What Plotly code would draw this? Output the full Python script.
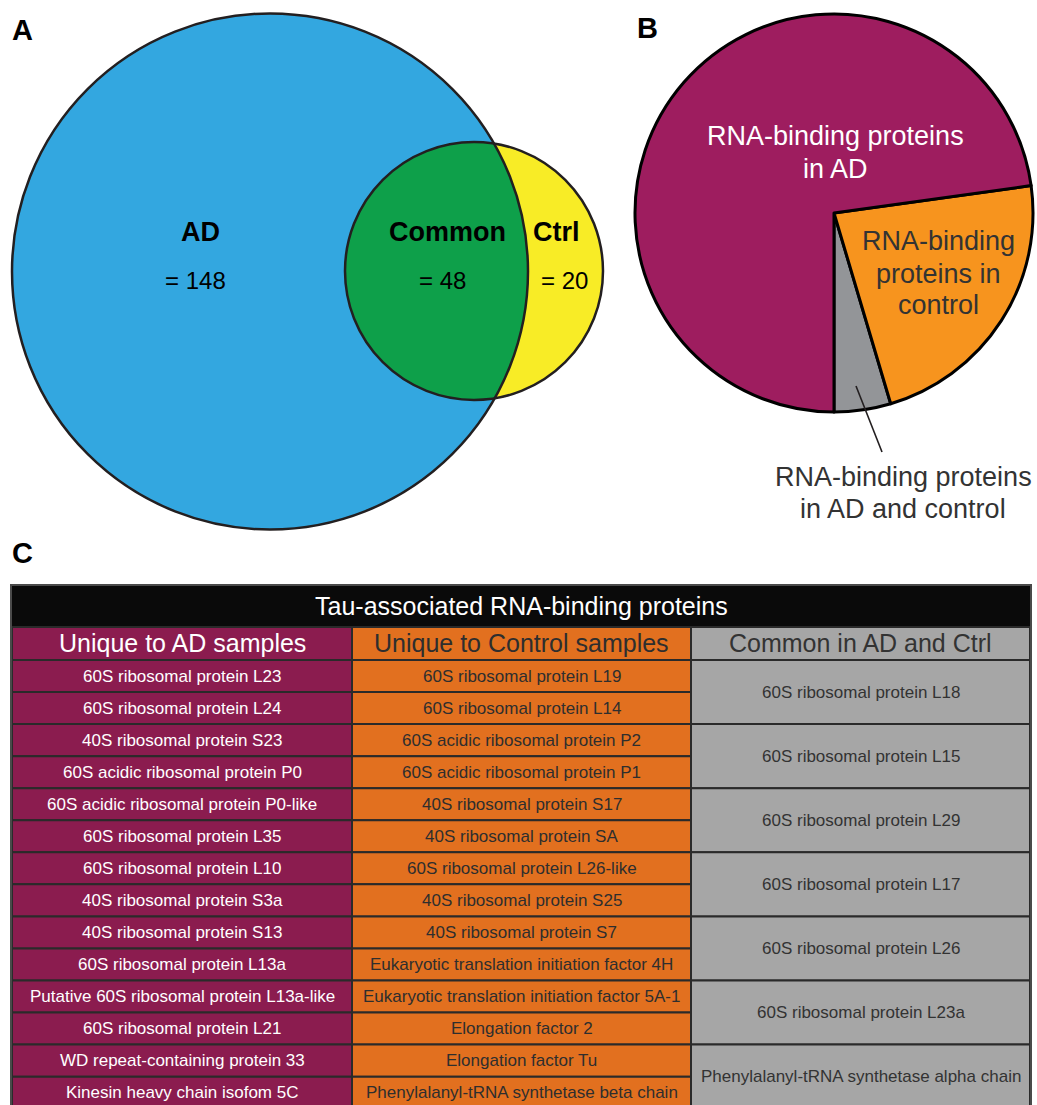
import numpy as np
import plotly.graph_objects as go

W, H = 1037, 1105
FONT = "Arial, Liberation Sans, Helvetica, sans-serif"

# ---------------- Panel A: Venn diagram ----------------
venn_names = ["AD", "Common", "Ctrl"]
venn_counts = [148, 48, 20]
venn_colors = {"AD": "#33A7E0", "Common": "#0EA04A", "Ctrl": "#F8EC26"}

# ---------------- Panel B: pie (percent of RNA-binding proteins) ----------------
pie_labels = [
    "RNA-binding proteins in AD and control",
    "RNA-binding proteins in control",
    "RNA-binding proteins in AD",
]
pie_values = [4.6, 22.6, 72.8]
pie_colors = ["#939598", "#F7941E", "#9E1D5F"]

# ---------------- Panel C: table ----------------
table_title = "Tau-associated RNA-binding proteins"
col_headers = ["Unique to AD samples", "Unique to Control samples", "Common in AD and Ctrl"]
unique_ad = [
    "60S ribosomal protein L23",
    "60S ribosomal protein L24",
    "40S ribosomal protein S23",
    "60S acidic ribosomal protein P0",
    "60S acidic ribosomal protein P0-like",
    "60S ribosomal protein L35",
    "60S ribosomal protein L10",
    "40S ribosomal protein S3a",
    "40S ribosomal protein S13",
    "60S ribosomal protein L13a",
    "Putative 60S ribosomal protein L13a-like",
    "60S ribosomal protein L21",
    "WD repeat-containing protein 33",
    "Kinesin heavy chain isofom 5C",
]
unique_ctrl = [
    "60S ribosomal protein L19",
    "60S ribosomal protein L14",
    "60S acidic ribosomal protein P2",
    "60S acidic ribosomal protein P1",
    "40S ribosomal protein S17",
    "40S ribosomal protein SA",
    "60S ribosomal protein L26-like",
    "40S ribosomal protein S25",
    "40S ribosomal protein S7",
    "Eukaryotic translation initiation factor 4H",
    "Eukaryotic translation initiation factor 5A-1",
    "Elongation factor 2",
    "Elongation factor Tu",
    "Phenylalanyl-tRNA synthetase beta chain",
]
common_both = [
    "60S ribosomal protein L18",
    "60S ribosomal protein L15",
    "60S ribosomal protein L29",
    "60S ribosomal protein L17",
    "60S ribosomal protein L26",
    "60S ribosomal protein L23a",
    "Phenylalanyl-tRNA synthetase alpha chain",
]
col_fill = ["#8B1C4F", "#E2701F", "#A6A6A6"]
col_text = ["#FFFFFF", "#2E2E2E", "#333333"]

fig = go.Figure()
shapes = []
annotations = []

OUTLINE = "#231F20"

# ---- Venn geometry (pixel-like data units) ----
c_ad = (270.0, 271.5, 258.0)
c_ct = (474.0, 271.0, 129.0)


def circle_shape(c, fill, line_w, layer):
    cx, cy, r = c
    return dict(type="circle", xref="x", yref="y", x0=cx - r, x1=cx + r, y0=cy - r, y1=cy + r,
                fillcolor=fill, line=dict(color=OUTLINE, width=line_w), layer=layer)


shapes.append(circle_shape(c_ad, venn_colors["AD"], 0, "below"))
shapes.append(circle_shape(c_ct, venn_colors["Ctrl"], 0, "below"))

# lens (intersection) region
(x1, y1, r1), (x2, y2, r2) = c_ad, c_ct
d = np.hypot(x2 - x1, y2 - y1)
a = (r1 ** 2 - r2 ** 2 + d ** 2) / (2 * d)
h = np.sqrt(r1 ** 2 - a ** 2)
ux, uy = (x2 - x1) / d, (y2 - y1) / d
px, py = x1 + a * ux, y1 + a * uy
p_top = (px + h * uy, py - h * ux)
p_bot = (px - h * uy, py + h * ux)
if p_top[1] > p_bot[1]:
    p_top, p_bot = p_bot, p_top
t2a = np.arctan2(p_top[1] - y2, p_top[0] - x2)
t2b = np.arctan2(p_bot[1] - y2, p_bot[0] - x2)
t2 = np.linspace(t2a, t2b - 2 * np.pi, 200)
t1a = np.arctan2(p_bot[1] - y1, p_bot[0] - x1)
t1b = np.arctan2(p_top[1] - y1, p_top[0] - x1)
t1 = np.linspace(t1a, t1b, 120)
lens_x = np.concatenate([x2 + r2 * np.cos(t2), x1 + r1 * np.cos(t1)])
lens_y = np.concatenate([y2 + r2 * np.sin(t2), y1 + r1 * np.sin(t1)])
fig.add_trace(go.Scatter(x=lens_x, y=lens_y, fill="toself", fillcolor=venn_colors["Common"],
                         mode="lines", line=dict(width=0, color=venn_colors["Common"]),
                         hoverinfo="skip", showlegend=False))

shapes.append(circle_shape(c_ad, "rgba(0,0,0,0)", 2.5, "above"))
shapes.append(circle_shape(c_ct, "rgba(0,0,0,0)", 2.5, "above"))

venn_pos = {"AD": (200, 195), "Common": (447, 442), "Ctrl": (556, 564)}
for name, n in zip(venn_names, venn_counts):
    xn, xv = venn_pos[name]
    annotations.append(dict(x=xn, y=232, xref="x", yref="y", text="<b>%s</b>" % name, showarrow=False,
                            font=dict(family=FONT, size=27, color="#000000")))
    annotations.append(dict(x=xv, y=280, xref="x", yref="y", text="= %d" % n, showarrow=False,
                            font=dict(family=FONT, size=24, color="#000000")))

# ---- Panel B pie ----
pie_cx, pie_cy, pie_r = 834.0, 213.0, 199.0
# the shared slice ends exactly at 6 o'clock; the others follow counterclockwise
first_share = 360.0 * pie_values[0] / sum(pie_values)
fig.add_trace(go.Pie(
    values=pie_values, labels=pie_labels, sort=False, direction="counterclockwise",
    rotation=180 - first_share,
    marker=dict(colors=pie_colors, line=dict(color="#000000", width=3)),
    textinfo="none", hoverinfo="label+percent", showlegend=False,
    domain=dict(x=[(pie_cx - pie_r) / W, (pie_cx + pie_r) / W],
                y=[1 - (pie_cy + pie_r) / H, 1 - (pie_cy - pie_r) / H]),
))

# leader line for the small slice
shapes.append(dict(type="line", xref="x", yref="y", x0=856, y0=386, x1=882, y1=452,
                   line=dict(color=OUTLINE, width=1.6), layer="above"))


def text_lines(lines, x, ys, size, color):
    for ln, yy in zip(lines, ys):
        annotations.append(dict(x=x, y=yy, xref="x", yref="y", text=ln, showarrow=False,
                                font=dict(family=FONT, size=size, color=color)))


text_lines(["RNA-binding proteins", "in AD"], 835, [136, 169], 27, "#FFFFFF")
text_lines(["RNA-binding", "proteins in", "control"], 938, [241, 274, 305], 27, "#333333")
text_lines(["RNA-binding proteins", "in AD and control"], 903, [477, 509], 27, "#333333")

# ---- Panel C table ----
x_edges = [12, 352, 691, 1030]
title_top, title_bot, head_bot = 586, 627, 660
row_h = 32.05
BORDER = "#2A2A2A"

shapes.append(dict(type="rect", xref="x", yref="y", x0=x_edges[0], x1=x_edges[-1], y0=title_top, y1=title_bot,
                   fillcolor="#0A0A0A", line=dict(color="#0A0A0A", width=1), layer="above"))
annotations.append(dict(x=(x_edges[0] + x_edges[-1]) / 2, y=(title_top + title_bot) / 2 - 1, xref="x", yref="y",
                        text=table_title, showarrow=False, font=dict(family=FONT, size=25, color="#FFFFFF")))

for j, hdr in enumerate(col_headers):
    shapes.append(dict(type="rect", xref="x", yref="y", x0=x_edges[j], x1=x_edges[j + 1], y0=title_bot, y1=head_bot,
                       fillcolor=col_fill[j], line=dict(color=BORDER, width=2), layer="above"))
    annotations.append(dict(x=(x_edges[j] + x_edges[j + 1]) / 2, y=(title_bot + head_bot) / 2 - 1, xref="x", yref="y",
                            text=hdr, showarrow=False, font=dict(family=FONT, size=25, color=col_text[j])))


def cell(j, r0, span, txt):
    ya = head_bot + r0 * row_h
    yb = ya + span * row_h
    shapes.append(dict(type="rect", xref="x", yref="y", x0=x_edges[j], x1=x_edges[j + 1], y0=ya, y1=yb,
                       fillcolor=col_fill[j], line=dict(color=BORDER, width=2), layer="above"))
    annotations.append(dict(x=(x_edges[j] + x_edges[j + 1]) / 2, y=(ya + yb) / 2, xref="x", yref="y",
                            text=txt, showarrow=False, font=dict(family=FONT, size=17, color=col_text[j])))


for i, txt in enumerate(unique_ad):
    cell(0, i, 1, txt)
for i, txt in enumerate(unique_ctrl):
    cell(1, i, 1, txt)
for i, txt in enumerate(common_both):
    cell(2, 2 * i, 2, txt)

# outer frame of the table
shapes.append(dict(type="rect", xref="x", yref="y", x0=x_edges[0] - 1, x1=x_edges[-1] + 1,
                   y0=title_top - 1, y1=head_bot + len(unique_ad) * row_h + 2,
                   fillcolor="rgba(0,0,0,0)", line=dict(color="#4A4A4A", width=2), layer="above"))

# panel letters
for letter, (lx, ly) in zip(["A", "B", "C"], [(22, 30), (647, 28), (22, 553)]):
    annotations.append(dict(x=lx, y=ly, xref="x", yref="y", text="<b>%s</b>" % letter, showarrow=False,
                            font=dict(family=FONT, size=29, color="#000000")))

fig.update_layout(
    width=W, height=H, margin=dict(l=0, r=0, t=0, b=0),
    paper_bgcolor="#FFFFFF", plot_bgcolor="#FFFFFF",
    xaxis=dict(range=[0, W], visible=False, fixedrange=True),
    yaxis=dict(range=[H, 0], visible=False, fixedrange=True),
    shapes=shapes, annotations=annotations, showlegend=False,
)

fig.write_html("out.html")
